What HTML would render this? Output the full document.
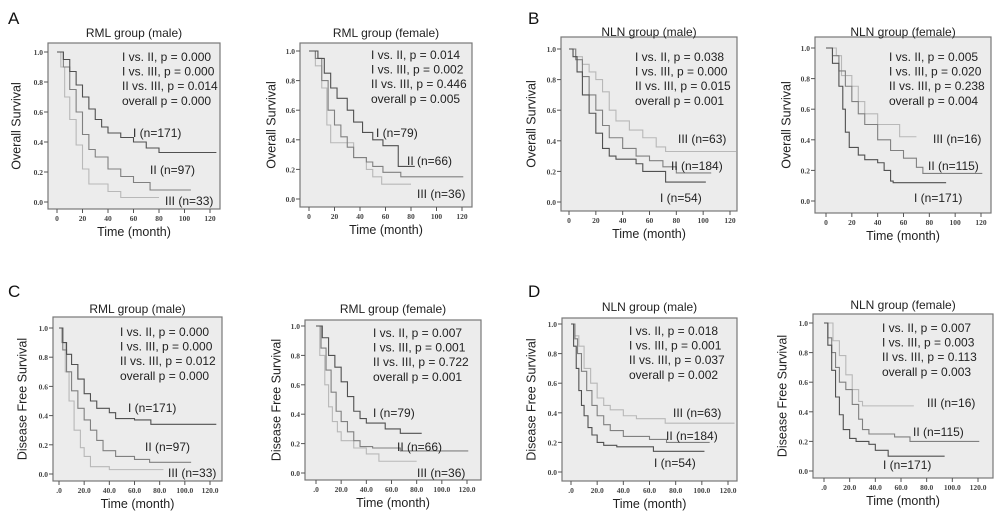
<!DOCTYPE html>
<html><head><meta charset="utf-8"><style>
html,body{margin:0;padding:0;background:#fff;}
svg{display:block;font-family:"Liberation Sans",Arial,sans-serif;}
</style></head><body>
<svg id="fig" width="1000" height="519" viewBox="0 0 1000 519" xmlns="http://www.w3.org/2000/svg"></svg>
<script>
// ---- data: step times (months) and survival proportions ----
const AM_I_t=[0,5,10,15,20,25,30,35,40,50,60,70,80,125], AM_I_s=[1,.95,.87,.78,.7,.62,.55,.5,.46,.43,.4,.36,.33,.33];
const AM_II_t=[0,5,10,15,20,25,30,40,50,60,73,105], AM_II_s=[1,.9,.75,.6,.45,.35,.3,.22,.17,.13,.08,.08];
const AM_III_t=[0,3,6,10,15,20,25,40,50,80], AM_III_s=[1,.9,.7,.55,.38,.22,.12,.07,.03,.03];
const AF_I_t=[0,7,12,17,22,30,35,42,50,58,70,83], AF_I_s=[1,.95,.85,.75,.68,.6,.52,.45,.4,.36,.22,.22];
const AF_II_t=[0,5,10,15,20,25,30,35,45,50,58,72,121], AF_II_s=[1,.95,.8,.6,.5,.42,.35,.28,.25,.22,.18,.15,.15];
const AF_III_t=[0,5,10,14,17,30,35,45,50,57,80], AF_III_s=[1,.9,.75,.5,.38,.38,.28,.2,.15,.1,.1];
const BM_I_t=[0,3,6,10,15,20,25,30,35,50,55,72,102], BM_I_s=[1,.95,.85,.7,.58,.45,.35,.3,.28,.25,.2,.13,.13];
const BM_II_t=[0,5,10,15,20,25,30,40,50,60,70,80,106], BM_II_s=[1,.93,.82,.7,.6,.5,.42,.35,.3,.27,.23,.19,.19];
const BM_III_t=[0,5,10,15,20,25,30,35,45,55,65,72,125], BM_III_s=[1,.95,.9,.85,.8,.72,.6,.53,.47,.42,.36,.33,.33];
const BF_I_t=[0,5,10,13,15,18,25,30,40,45,50,52,93], BF_I_s=[1,.9,.75,.6,.45,.35,.3,.27,.25,.2,.13,.12,.12];
const BF_II_t=[0,5,10,15,20,25,30,40,50,60,70,75,121], BF_II_s=[1,.95,.85,.75,.65,.57,.5,.4,.33,.28,.22,.18,.18];
const BF_III_t=[0,8,12,20,25,30,40,57,70], BF_III_s=[1,.95,.82,.75,.65,.57,.5,.42,.42];
const CM_I_t=[0,3,6,10,15,20,25,30,40,45,60,73,125], CM_I_s=[1,.9,.82,.75,.65,.55,.5,.45,.42,.38,.37,.34,.34];
const CM_II_t=[0,3,6,10,15,20,25,30,35,45,60,72,105], CM_II_s=[1,.85,.7,.57,.45,.37,.3,.23,.16,.12,.1,.08,.08];
const CM_III_t=[0,2,5,8,12,17,20,25,40,83], CM_III_s=[1,.9,.7,.5,.3,.18,.12,.05,.03,.03];
const CF_I_t=[0,5,10,15,20,25,30,35,40,55,67,84], CF_I_s=[1,.92,.8,.72,.62,.52,.42,.37,.34,.3,.27,.27];
const CF_II_t=[0,4,8,12,16,20,25,30,35,45,67,121], CF_II_s=[1,.85,.7,.55,.42,.35,.28,.22,.18,.17,.15,.15];
const CF_III_t=[0,3,7,10,13,17,20,30,40,50,80], CF_III_s=[1,.8,.6,.45,.35,.28,.22,.17,.13,.08,.08];
const DM_I_t=[0,2,4,6,8,10,13,16,20,25,35,63,102], DM_I_s=[1,.85,.7,.55,.45,.38,.3,.25,.2,.18,.17,.14,.14];
const DM_II_t=[0,3,5,8,12,16,20,25,30,40,60,73,106], DM_II_s=[1,.9,.8,.68,.55,.45,.38,.32,.28,.24,.22,.2,.2];
const DM_III_t=[0,3,6,10,15,20,25,30,40,50,72,125], DM_III_s=[1,.92,.85,.7,.6,.5,.45,.42,.38,.36,.33,.33];
const DF_I_t=[0,3,6,9,12,15,20,25,35,40,50,94], DF_I_s=[1,.85,.68,.5,.38,.28,.22,.2,.18,.14,.1,.1];
const DF_II_t=[0,3,6,9,12,17,22,27,30,35,55,67,121], DF_II_s=[1,.9,.8,.7,.6,.55,.45,.35,.28,.25,.23,.2,.2];
const DF_III_t=[0,7,12,17,22,27,30,70], DF_III_s=[1,.88,.78,.65,.55,.47,.44,.44];
const yTicks=[0,0.2,0.4,0.6,0.8,1.0], yTickLabels=["0.0","0.2","0.4","0.6","0.8","1.0"];
const xTicks=[0,20,40,60,80,100,120];
const xTickLabelsOS=["0","20","40","60","80","100","120"];
const xTickLabelsDFS=[".0","20.0","40.0","60.0","80.0","100.0","120.0"];

const NS="http://www.w3.org/2000/svg", svg=document.getElementById('fig');
function mk(tag,attrs,parent){const e=document.createElementNS(NS,tag);for(const k in attrs)e.setAttribute(k,attrs[k]);(parent||svg).appendChild(e);return e;}
function txt(s,attrs,parent){const e=mk('text',attrs,parent);e.textContent=s;return e;}
const colors={I:'#505050',II:'#808080',III:'#b8b8b8'};

const panels=[
 {id:'a-male',title:'RML group (male)',box:[48,43,220,209],x0:57,x120:210,y1:52,y0:202,dfs:false,ylx:17,tly:37,
  p:['I vs. II, p = 0.000','I vs. III, p = 0.000','II vs. III, p = 0.014','overall p = 0.000'],px:122,py:61,
  curves:[['III',AM_III_t,AM_III_s],['II',AM_II_t,AM_II_s],['I',AM_I_t,AM_I_s]],
  labels:[['I (n=171)',133,137],['II (n=97)',150,174],['III (n=33)',165,205]]},
 {id:'a-female',title:'RML group (female)',box:[300,43,472,207],x0:309,x120:462,y1:51,y0:199,dfs:false,ylx:272,tly:37,
  p:['I vs. II, p = 0.014','I vs. III, p = 0.002','II vs. III, p = 0.446','overall p = 0.005'],px:371,py:59,
  curves:[['III',AF_III_t,AF_III_s],['II',AF_II_t,AF_II_s],['I',AF_I_t,AF_I_s]],
  labels:[['I (n=79)',376,137],['II (n=66)',407,165],['III (n=36)',417,198]]},
 {id:'b-male',title:'NLN group (male)',box:[561,37,737,211],x0:569,x120:730,y1:49,y0:202,dfs:false,ylx:532,tly:36,
  p:['I vs. II, p = 0.038','I vs. III, p = 0.000','II vs. III, p = 0.015','overall p = 0.001'],px:635,py:61,
  curves:[['III',BM_III_t,BM_III_s],['II',BM_II_t,BM_II_s],['I',BM_I_t,BM_I_s]],
  labels:[['III (n=63)',678,143],['II (n=184)',671,170],['I (n=54)',660,202]]},
 {id:'b-female',title:'NLN group (female)',box:[815,37,991,213],x0:826,x120:981,y1:48,y0:201,dfs:false,ylx:787,tly:36,
  p:['I vs. II, p = 0.005','I vs. III, p = 0.020','II vs. III, p = 0.238','overall p = 0.004'],px:889,py:61,
  curves:[['III',BF_III_t,BF_III_s],['II',BF_II_t,BF_II_s],['I',BF_I_t,BF_I_s]],
  labels:[['III (n=16)',933,143],['II (n=115)',928,170],['I (n=171)',914,202]]},
 {id:'c-male',title:'RML group (male)',box:[53,317,222,481],x0:59,x120:210,y1:328,y0:474,dfs:true,ylx:23,tly:313,
  p:['I vs. II, p = 0.000','I vs. III, p = 0.000','II vs. III, p = 0.012','overall p = 0.000'],px:120,py:336,
  curves:[['III',CM_III_t,CM_III_s],['II',CM_II_t,CM_II_s],['I',CM_I_t,CM_I_s]],
  labels:[['I (n=171)',128,412],['II (n=97)',145,451],['III (n=33)',168,477]]},
 {id:'c-female',title:'RML group (female)',box:[305,320,481,480],x0:316,x120:467,y1:326,y0:473,dfs:true,ylx:277,tly:313,
  p:['I vs. II, p = 0.007','I vs. III, p = 0.001','II vs. III, p = 0.722','overall p = 0.001'],px:373,py:337,
  curves:[['III',CF_III_t,CF_III_s],['II',CF_II_t,CF_II_s],['I',CF_I_t,CF_I_s]],
  labels:[['I (n=79)',373,417],['II (n=66)',397,451],['III (n=36)',417,477]]},
 {id:'d-male',title:'NLN group (male)',box:[562,318,737,481],x0:571,x120:728,y1:324,y0:472,dfs:true,ylx:532,tly:311,
  p:['I vs. II, p = 0.018','I vs. III, p = 0.001','II vs. III, p = 0.037','overall p = 0.002'],px:629,py:335,
  curves:[['III',DM_III_t,DM_III_s],['II',DM_II_t,DM_II_s],['I',DM_I_t,DM_I_s]],
  labels:[['III (n=63)',673,417],['II (n=184)',666,440],['I (n=54)',654,467]]},
 {id:'d-female',title:'NLN group (female)',box:[813,314,993,478],x0:824,x120:978,y1:323,y0:471,dfs:true,ylx:783,tly:309,
  p:['I vs. II, p = 0.007','I vs. III, p = 0.003','II vs. III, p = 0.113','overall p = 0.003'],px:882,py:332,
  curves:[['III',DF_III_t,DF_III_s],['II',DF_II_t,DF_II_s],['I',DF_I_t,DF_I_s]],
  labels:[['III (n=16)',927,407],['II (n=115)',913,436],['I (n=171)',883,469]]}
];

[['A',8,24],['B',528,24],['C',8,297],['D',528,297]].forEach(l=>{
  const t=txt(l[0],{x:l[1],y:l[2],'font-size':17,fill:'#111'});
  
  
});

panels.forEach(P=>{
  const g=mk('g',{});
  
  
  const [bx0,by0,bx1,by1]=P.box;
  const sx=t=>P.x0+(P.x120-P.x0)*t/120;
  const sy=s=>P.y0+(P.y1-P.y0)*s;
  const r=mk('rect',{x:bx0,y:by0,width:bx1-bx0,height:by1-by0,fill:'#ececec',stroke:'#777','stroke-width':1.2},g);
  
  
  const tt=txt(P.title,{x:(bx0+bx1)/2,y:P.tly,'text-anchor':'middle','font-size':12,fill:'#222'},g);
  
  
  yTicks.forEach((v,i)=>{
    mk('line',{x1:bx0-4,x2:bx0,y1:sy(v),y2:sy(v),stroke:'#555'},g);
    const l=txt(yTickLabels[i],{x:bx0-5,y:sy(v)+3,'text-anchor':'end','font-size':7.5,'font-weight':'bold','font-family':'Liberation Serif,serif',fill:'#444'},g);
    
    
  });
  const xl=P.dfs?xTickLabelsDFS:xTickLabelsOS;
  xTicks.forEach((v,i)=>{
    mk('line',{x1:sx(v),x2:sx(v),y1:by1,y2:by1+4,stroke:'#555'},g);
    const l=txt(xl[i],{x:sx(v),y:by1+12,'text-anchor':'middle','font-size':7.5,'font-weight':'bold','font-family':'Liberation Serif,serif',fill:'#444'},g);
    
    
  });
  const xt=txt('Time (month)',{x:(bx0+bx1)/2,y:Math.min(by1+27,516),'text-anchor':'middle','font-size':12.5,fill:'#222'},g);
  
  
  const yc=(by0+by1)/2;
  const yt=txt(P.dfs?'Disease Free Survival':'Overall Survival',{x:P.ylx,y:yc,'text-anchor':'middle','dominant-baseline':'middle','font-size':12.5,fill:'#222',transform:'rotate(-90 '+P.ylx+' '+yc+')'},g);
  
  
  P.curves.forEach(c=>{
    const [grp,T,S]=c;
    let d='M'+sx(T[0])+' '+sy(S[0]);
    for(let i=1;i<T.length;i++){d+=' H'+sx(T[i])+' V'+sy(S[i]);}
    const p=mk('path',{d:d,fill:'none',stroke:colors[grp],'stroke-width':1.1},g);
    
    
  });
  P.p.forEach((s,i)=>{
    const t=txt(s,{x:P.px,y:P.py+i*14.6,'font-size':12,fill:'#222'},g);
    
    
  });
  P.labels.forEach(L=>{
    const t=txt(L[0],{x:L[1],y:L[2],'font-size':12,fill:'#222'},g);
    
    
  });
});
</script>
</body></html>
